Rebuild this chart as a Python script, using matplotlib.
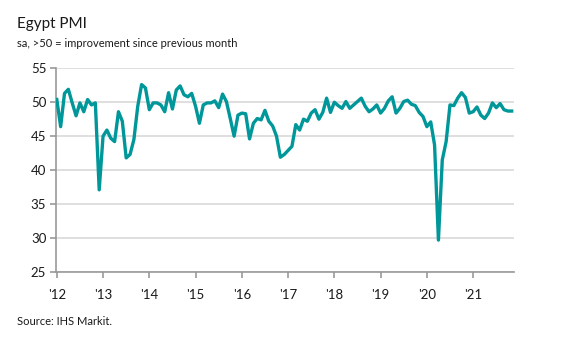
"""
Egypt PMI line chart.
"""
import numpy as np
import matplotlib
matplotlib.use("Agg")
import matplotlib.pyplot as plt

plt.rcParams['font.family'] = ['Lato', 'DejaVu Sans']

# monthly PMI, Jan 2012 - Nov 2021
pmi_2012 = [50.4, 46.4, 51.3, 51.9, 49.9, 48.0, 49.9, 48.6, 50.4, 49.6, 49.9, 37.1]
pmi_2013 = [45.0, 45.9, 44.7, 44.2, 48.6, 47.2, 41.8, 42.3, 44.5, 49.4, 52.6, 52.1]
pmi_2014 = [48.9, 49.9, 49.9, 49.6, 48.6, 51.4, 49.0, 51.8, 52.4, 51.1, 50.8, 51.3]
pmi_2015 = [49.4, 46.9, 49.6, 49.9, 49.9, 50.2, 49.2, 51.2, 50.1, 47.6, 45.0, 48.1]
pmi_2016 = [48.4, 48.3, 44.6, 46.9, 47.6, 47.4, 48.8, 47.2, 46.5, 45.0, 41.9, 42.3]
pmi_2017 = [42.9, 43.5, 46.7, 45.9, 47.5, 47.2, 48.4, 48.9, 47.5, 48.5, 50.6, 48.5]
pmi_2018 = [50.0, 49.5, 49.1, 50.1, 49.1, 49.6, 50.1, 50.6, 49.4, 48.6, 49.0, 49.6]
pmi_2019 = [48.4, 49.1, 50.2, 50.8, 48.4, 49.1, 50.1, 50.3, 49.7, 49.5, 48.5, 47.9]
pmi_2020 = [46.4, 47.1, 43.7, 29.7, 41.5, 44.2, 49.6, 49.5, 50.6, 51.4, 50.7, 48.4]
pmi_2021 = [48.6, 49.3, 48.1, 47.6, 48.4, 49.9, 49.2, 49.8, 48.9, 48.7, 48.7]

year_labels = ["'12", "'13", "'14", "'15", "'16", "'17", "'18", "'19", "'20", "'21"]
y_ticks = [25, 30, 35, 40, 45, 50, 55]

pmi = (pmi_2012 + pmi_2013 + pmi_2014 + pmi_2015 + pmi_2016 + pmi_2017
       + pmi_2018 + pmi_2019 + pmi_2020 + pmi_2021)
months = np.arange(len(pmi))

fig = plt.figure(figsize=(5.67, 3.43), dpi=100)
ax = fig.add_axes([0.0988, 0.207, 0.807, 0.594])

ax.plot(months, pmi, color='#00979a', lw=2.4, solid_joinstyle='round', zorder=3)

ax.set_xlim(-0.2, 118.5)
ax.set_ylim(25, 55)
ax.set_yticks(y_ticks)
ax.set_xticks(np.arange(len(year_labels)) * 12)
ax.set_xticklabels(year_labels)

ax.grid(axis='y', color='#d9d9d9', lw=1.2, zorder=0)
ax.set_axisbelow(True)
for s in ['top', 'right']:
    ax.spines[s].set_visible(False)
for s in ['left', 'bottom']:
    ax.spines[s].set_color('#999999')
    ax.spines[s].set_linewidth(1.2)
ax.tick_params(axis='both', colors='#999999', length=4, width=1.2,
               labelcolor='#1a1a1a', labelsize=9.5)
ax.tick_params(axis='x', pad=8)
ax.tick_params(axis='y', pad=3)

fig.text(0.03, 0.93, 'Egypt PMI', fontsize=11, color='#1a1a1a', va='center')
fig.text(0.03, 0.872, 'sa, >50 = improvement since previous month', fontsize=8,
         color='#1a1a1a', va='center')
fig.text(0.03, 0.062, 'Source: IHS Markit.', fontsize=8, color='#1a1a1a', va='center')

fig.savefig('out.png', dpi=100)
